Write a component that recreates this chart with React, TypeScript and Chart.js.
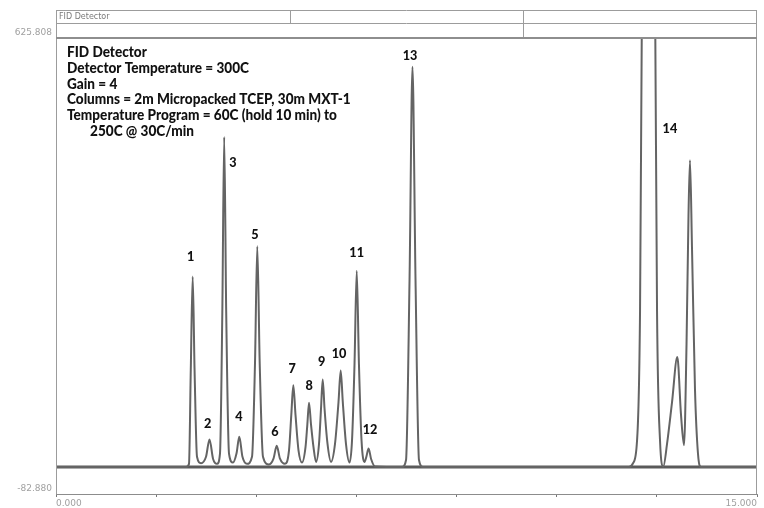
import { useEffect, useRef } from "react";
import { Chart, registerables } from "chart.js";

Chart.register(...registerables);

// Retention time (min) and detector signal of the trace
const traceTime = [
  0, 2.782, 2.846, 2.884, 2.925, 2.965, 3.017, 3.103, 3.21, 3.285, 3.36, 3.445,
  3.509, 3.559, 3.599, 3.642, 3.702, 3.787, 3.862, 3.922, 3.99, 4.087,
  4.194, 4.258, 4.307, 4.359, 4.429, 4.558, 4.654, 4.723, 4.793, 4.9,
  4.986, 5.035, 5.078, 5.125, 5.189, 5.264, 5.339, 5.378, 5.414, 5.457, 5.51, 5.564,
  5.628, 5.671, 5.707, 5.746, 5.81, 5.885, 5.97, 6.045, 6.092, 6.137, 6.205, 6.28,
  6.334, 6.388, 6.435, 6.482, 6.538, 6.602, 6.641, 6.688, 6.741, 6.826,
  7.404, 7.49, 7.565, 7.628, 7.693, 7.767, 7.853,
  12.261, 12.347, 12.433, 12.497, 12.54, 12.679, 12.818, 12.861, 12.925, 12.995,
  13.075, 13.182, 13.295, 13.374, 13.438, 13.492, 13.534, 13.566, 13.609, 13.673,
  13.737, 13.802, 15,
];
const traceSignal = [
  -41, -41, -36, 110, 255, 110, -25, -35, -25, 2, -28, -36,
  -20, 200, 472, 200, -20, -34, -20, 6, -25, -36,
  -25, 120, 302, 120, -25, -37, -28, -8, -28, -36,
  -15, 40, 86, 40, -15, -34, -10, 25, 59, 25, -10, -33,
  -5, 50, 95, 50, -5, -33, -5, 60, 109, 60, -5, -34,
  0, 120, 264, 120, 0, -33, -25, -12, -28, -40,
  -41, -30, 250, 581, 250, -30, -41,
  -41, -35, 0, 200, 700, 1400, 700, 200, 0, -40,
  -5, 60, 130, 40, -7, 150, 350, 436, 300, 80,
  -20, -41, -41,
];

// Baseline level of the detector
const baselineTime = [0, 15];
const baselineSignal = [-41, -41];

// Axis ticks
const xTickValues = [0, 2.142857, 4.285714, 6.428571, 8.571429, 10.714286, 12.857143, 15];
const xTickLabels = ["0.000", "", "", "", "", "", "", "15.000"];
const yTickValues = [-82.88, 625.808];
const yTickLabels = ["-82.880", "625.808"];

// Peak labels (anchor in data units)
const peakNames = ["1", "2", "3", "4", "5", "6", "7", "8", "9", "10", "11", "12", "13", "14"];
const peakLabelTime = [2.882, 3.246, 3.787, 3.916, 4.258, 4.686, 5.056, 5.42, 5.685, 6.056, 6.434, 6.719, 7.575, 13.138];
const peakLabelSignal = [287, 26, 433, 37, 321, 14, 112, 86, 123, 135, 292, 18, 598, 485];

// Method notes
const headerTitle = "FID Detector";
const infoLines = [
  "FID Detector",
  "Detector Temperature = 300C",
  "Gain = 4",
  "Columns = 2m Micropacked TCEP, 30m MXT-1",
  "Temperature Program = 60C (hold 10 min) to",
  "250C @ 30C/min",
];
const infoIndent = [0, 0, 0, 0, 0, 23];

const TEXT_FONT = "Lato";

const framePlugin = {
  id: "frame",
  afterDraw(chart: any) {
    const { ctx, chartArea: a, scales } = chart;
    ctx.save();
    const headTop = 10.5;
    const headMid = 23.5;
    const w = a.right - a.left;
    // header box
    ctx.strokeStyle = "#9c9c9c";
    ctx.lineWidth = 1;
    ctx.beginPath();
    ctx.moveTo(a.left, headTop);
    ctx.lineTo(a.right, headTop);
    ctx.moveTo(a.left, headMid);
    ctx.lineTo(a.right, headMid);
    const c1 = Math.round(a.left + w / 3) + 0.5;
    const c2 = Math.round(a.left + (2 * w) / 3) + 0.5;
    ctx.moveTo(c1, headTop);
    ctx.lineTo(c1, headMid);
    ctx.moveTo(c2, headTop);
    ctx.lineTo(c2, a.top);
    ctx.moveTo(a.left + 0.5, headTop);
    ctx.lineTo(a.left + 0.5, a.bottom);
    ctx.moveTo(a.right - 0.5, headTop);
    ctx.lineTo(a.right - 0.5, a.bottom);
    ctx.stroke();
    // thick top rule
    ctx.strokeStyle = "#8e8e8e";
    ctx.lineWidth = 2;
    ctx.beginPath();
    ctx.moveTo(a.left, a.top);
    ctx.lineTo(a.right, a.top);
    ctx.stroke();
    // header title
    ctx.fillStyle = "#7a7a7a";
    ctx.font = "8px 'DejaVu Sans'";
    ctx.textBaseline = "middle";
    ctx.textAlign = "left";
    ctx.fillText(headerTitle, a.left + 3, 17);

    // info text
    ctx.font = `900 15px ${TEXT_FONT}`;
    const sx = 182 / ctx.measureText(infoLines[1]).width;
    ctx.fillStyle = "#111";
    infoLines.forEach((line, i) => {
      ctx.save();
      ctx.translate(a.left + 11 + infoIndent[i], 52.5 + i * 15.7);
      ctx.scale(sx, 1);
      ctx.fillText(line, 0, 0);
      ctx.restore();
    });

    // peak labels
    ctx.font = `900 14px ${TEXT_FONT}`;
    ctx.textAlign = "center";
    peakNames.forEach((name, i) => {
      const px = scales.x.getPixelForValue(peakLabelTime[i]);
      const py = scales.y.getPixelForValue(peakLabelSignal[i]);
      ctx.save();
      ctx.translate(px, py);
      ctx.scale(sx, 1);
      ctx.fillText(name, 0, 0);
      ctx.restore();
    });
    ctx.restore();
  },
};

export default function App() {
  const ref = useRef<HTMLCanvasElement | null>(null);
  useEffect(() => {
    if (!ref.current) return;
    const chart = new Chart(ref.current, {
      type: "line",
      data: {
        datasets: [
          {
            data: traceTime.map((t, i) => ({ x: t, y: traceSignal[i] })),
            borderColor: "#646464",
            borderWidth: 2,
            pointRadius: 0,
            cubicInterpolationMode: "monotone",
            fill: false,
            clip: 0,
            order: 1,
          } as any,
          {
            data: baselineTime.map((t, i) => ({ x: t, y: baselineSignal[i] })),
            borderColor: "#5a5a5a",
            borderWidth: 3,
            pointRadius: 0,
            fill: false,
            clip: 0,
            order: 2,
          } as any,
        ],
      },
      options: {
        animation: false,
        responsive: false,
        devicePixelRatio: 1,
        layout: { padding: { top: 38, right: 7, left: 0, bottom: 0 } },
        plugins: {
          legend: { display: false },
          tooltip: { enabled: false },
          title: { display: false },
        },
        scales: {
          x: {
            type: "linear",
            min: 0,
            max: 15,
            afterBuildTicks: (s: any) => {
              s.ticks = xTickValues.map((v) => ({ value: v }));
            },
            afterFit: (s: any) => {
              s.height = 14;
            },
            ticks: {
              autoSkip: false,
              maxRotation: 0,
              align: "inner",
              padding: 1,
              color: "#a0a0a0",
              font: { family: "DejaVu Sans", size: 9 },
              callback: (_v: any, i: number) => xTickLabels[i],
            },
            grid: {
              drawOnChartArea: false,
              drawTicks: true,
              tickLength: 3,
              color: "#777",
            },
            border: { display: true, color: "#8c8c8c", width: 1 },
          },
          y: {
            type: "linear",
            min: -82.88,
            max: 625.808,
            afterBuildTicks: (s: any) => {
              s.ticks = yTickValues.map((v) => ({ value: v }));
            },
            afterFit: (s: any) => {
              s.width = 56;
            },
            ticks: {
              autoSkip: false,
              padding: 4,
              labelOffset: -5,
              color: "#a0a0a0",
              font: { family: "DejaVu Sans", size: 9 },
              callback: (_v: any, i: number) => yTickLabels[i],
            },
            grid: { display: false, drawTicks: false },
            border: { display: true, color: "#8c8c8c", width: 1 },
          },
        },
      },
      plugins: [framePlugin],
    });
    return () => chart.destroy();
  }, []);
  return (
    <div style={{ position: "absolute", left: 0, top: 0, width: 764, height: 508, background: "#fff" }}>
      <canvas ref={ref} width={764} height={508} style={{ display: "block" }} />
    </div>
  );
}
